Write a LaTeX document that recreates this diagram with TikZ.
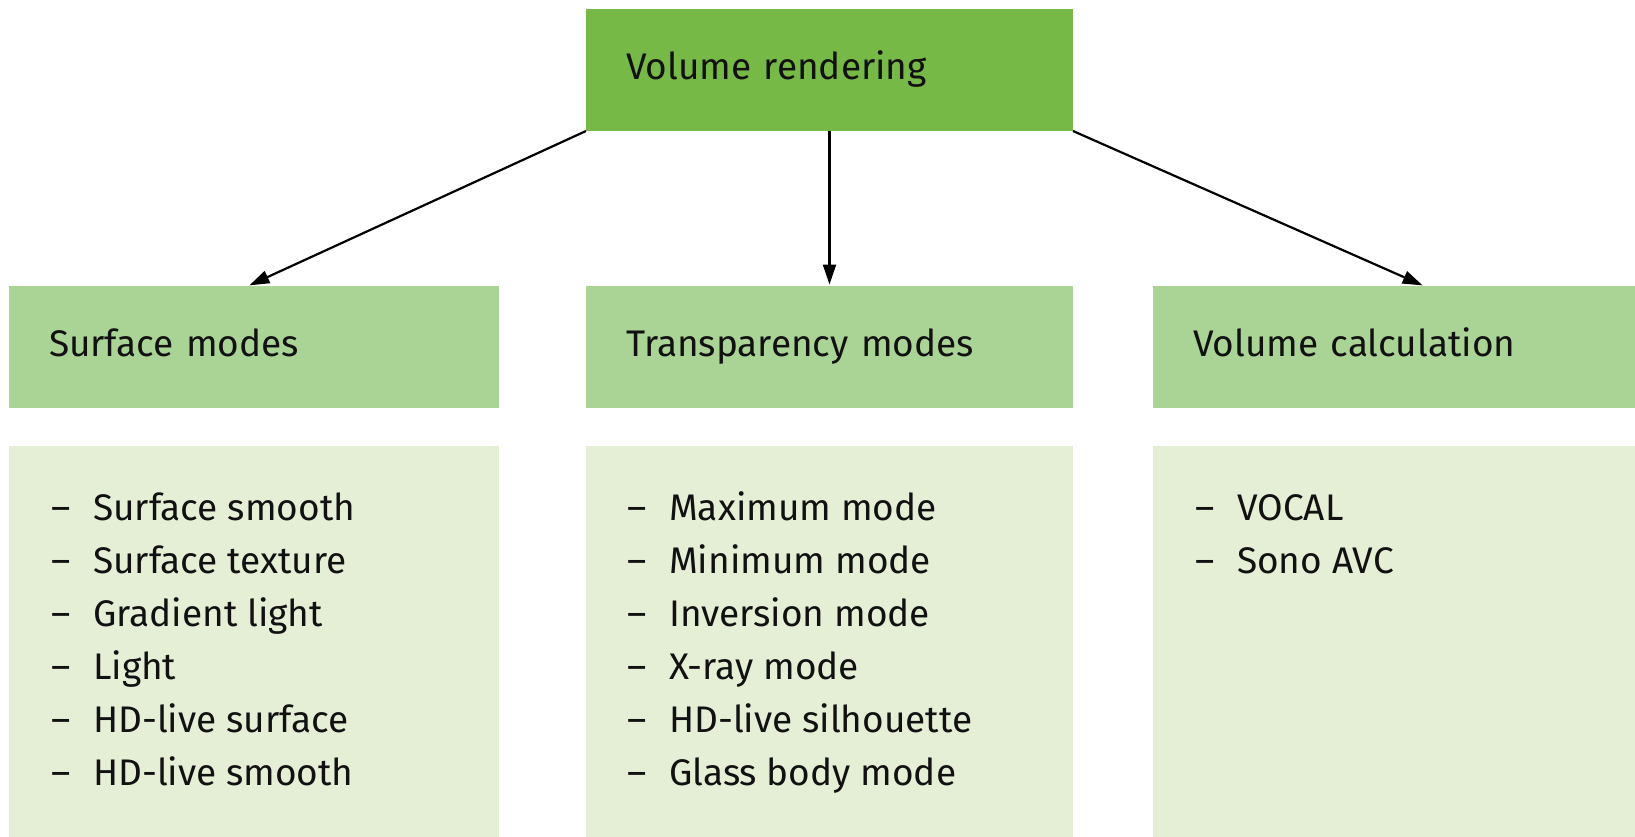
\documentclass[tikz,border=0pt]{standalone}
\usepackage{fontspec}
\setmainfont{Fira Sans}
\usetikzlibrary{arrows.meta,calc}
\definecolor{cTop}{HTML}{76B947}
\definecolor{cHead}{HTML}{AAD495}
\definecolor{cBody}{HTML}{E5EFD6}
\definecolor{cText}{HTML}{111111}
\newcommand{\dashitem}[1]{\makebox[42pt][l]{–}#1}
\tikzset{
  boxbase/.style={rectangle, inner sep=0pt, outer sep=0pt, anchor=north west, draw=none},
  hdrtext/.style={font=\fontsize{37}{53}\selectfont, text=cText, align=left,
    text height=19pt, text depth=0pt, inner xsep=40pt},
  topbox/.style={boxbase, hdrtext, fill=cTop, minimum width=487pt, minimum height=122pt, text width=407pt},
  headbox/.style={boxbase, hdrtext, fill=cHead, minimum height=122pt},
  bodybox/.style={boxbase, fill=cBody, minimum height=391pt},
  listtext/.style={font=\fontsize{37}{53}\selectfont, text=cText, inner sep=0pt, anchor=base west},
  arr/.style={-{Triangle[length=20pt,width=13pt]}, line width=2.2pt, black, shorten >=1.5pt}
}
\begin{document}
\begin{tikzpicture}[x=1pt,y=-1pt]
\useasboundingbox (0,0) rectangle (1635,837);
% top
\node[topbox] (top) at (586,9) {Volume rendering};
% headers
\node[headbox, minimum width=490pt, text width=410pt] (h1) at (9,286) {Surface modes};
\node[headbox, minimum width=487pt, text width=407pt] (h2) at (586,286) {Transparency modes};
\node[headbox, minimum width=482pt, text width=402pt] (h3) at (1153,286) {Volume calculation};
% bodies
\node[bodybox, minimum width=490pt] (b1) at (9,446) {};
\node[bodybox, minimum width=487pt] (b2) at (586,446) {};
\node[bodybox, minimum width=482pt] (b3) at (1153,446) {};
% lists
\node[listtext] (l1) at (51,520) {\begin{tabular}[t]{@{}l@{}}
\dashitem{Surface smooth}\\
\dashitem{Surface texture}\\
\dashitem{Gradient light}\\
\dashitem{Light}\\
\dashitem{HD-live surface}\\
\dashitem{HD-live smooth}
\end{tabular}};
\node[listtext] (l2) at (627,520) {\begin{tabular}[t]{@{}l@{}}
\dashitem{Maximum mode}\\
\dashitem{Minimum mode}\\
\dashitem{Inversion mode}\\
\dashitem{X-ray mode}\\
\dashitem{HD-live silhouette}\\
\dashitem{Glass body mode}
\end{tabular}};
\node[listtext] (l3) at (1195,520) {\begin{tabular}[t]{@{}l@{}}
\dashitem{VOCAL}\\
\dashitem{Sono AVC}
\end{tabular}};
% arrows
\draw[arr] (top.south west) -- ($(h1.north)+(-6,0)$);
\draw[arr] (top.south) -- (h2.north);
\draw[arr] (top.south east) -- ($(h3.north)+(30,0)$);
\end{tikzpicture}
\end{document}
